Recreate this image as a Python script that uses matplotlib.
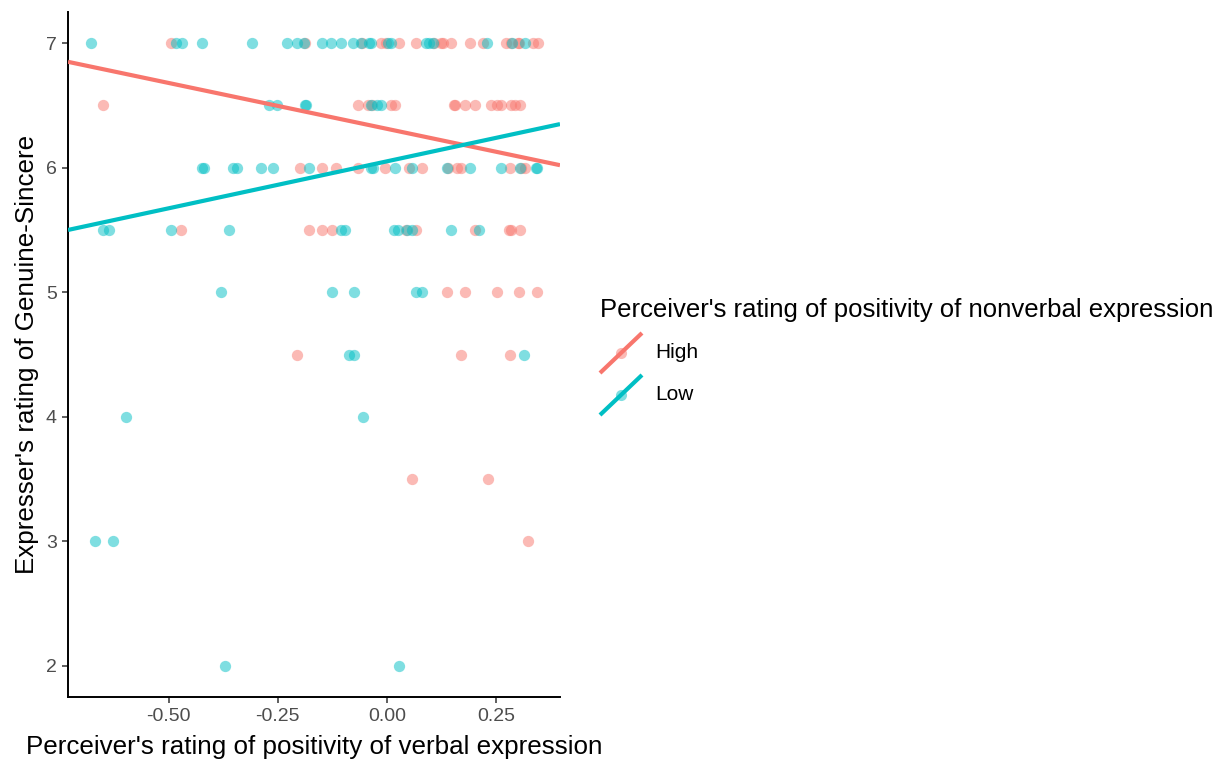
import numpy as np
import matplotlib
matplotlib.use("Agg")
import matplotlib.pyplot as plt
from matplotlib.lines import Line2D

plt.rcParams['font.family'] = ['Liberation Sans', 'DejaVu Sans']

# verbal positivity (x) and genuine-sincere rating (y), by nonverbal group
high_x = [-0.495, -0.187, -0.057, -0.014, -0.002, 0.027, 0.066, 0.107, 0.125, 0.128,
          0.148, 0.191, 0.221, 0.273, 0.285, 0.301, 0.303, 0.335, 0.346,
          -0.650, -0.066, -0.043, -0.034, 0.009, 0.018, 0.153, 0.157, 0.180, 0.201,
          0.239, 0.253, 0.262, 0.285, 0.294, 0.305,
          -0.198, -0.148, -0.116, -0.066, -0.005, 0.050, 0.080, 0.141, 0.162, 0.169,
          0.283, 0.307, 0.317,
          -0.472, -0.178, -0.148, -0.125, 0.044, 0.068, 0.201, 0.280, 0.285, 0.305,
          0.139, 0.180, 0.253, 0.303, 0.344,
          -0.207, 0.171, 0.283,
          0.057, 0.232,
          0.324]
high_y = [7.0] * 19 + [6.5] * 16 + [6.0] * 13 + [5.5] * 10 + [5.0] * 5 + [4.5] * 3 + [3.5] * 2 + [3.0]

low_x = [-0.679, -0.483, -0.469, -0.424, -0.310, -0.228, -0.207, -0.190, -0.148, -0.128,
         -0.105, -0.077, -0.060, -0.040, -0.036, 0.002, 0.009, 0.089, 0.096, 0.105,
         0.230, 0.287, 0.317,
         -0.271, -0.251, -0.187, -0.185, -0.036, -0.023, -0.014,
         -0.424, -0.420, -0.353, -0.344, -0.289, -0.260, -0.178, -0.036, -0.032, 0.018,
         0.057, 0.139, 0.191, 0.262, 0.305, 0.341, 0.344,
         -0.650, -0.638, -0.495, -0.362, -0.105, -0.096, 0.016, 0.025, 0.046, 0.057,
         0.148, 0.212,
         -0.381, -0.125, -0.075, 0.066, 0.080,
         -0.087, -0.075, 0.314,
         -0.597, -0.055,
         -0.668, -0.627,
         -0.371, 0.027]
low_y = ([7.0] * 23 + [6.5] * 7 + [6.0] * 17 + [5.5] * 12 + [5.0] * 5 + [4.5] * 3
         + [4.0] * 2 + [3.0] * 2 + [2.0] * 2)

# fitted lines, endpoints over the plotted range
fit_x = [-0.731, 0.397]
high_fit = [6.85, 6.02]
low_fit = [5.50, 6.35]

groups = ["High", "Low"]
colors = {"High": "#F8766D", "Low": "#00BFC4"}

fig = plt.figure(figsize=(12.25, 7.59), dpi=100)
ax = fig.add_axes([68 / 1225, 1 - 697 / 759, (560 - 68) / 1225, (697 - 12) / 759])

ax.scatter(high_x, high_y, s=66, color=colors["High"], alpha=0.5, linewidths=0, zorder=2)
ax.scatter(low_x, low_y, s=66, color=colors["Low"], alpha=0.5, linewidths=0, zorder=2)
ax.plot(fit_x, high_fit, color=colors["High"], lw=3, zorder=3, solid_capstyle='butt')
ax.plot(fit_x, low_fit, color=colors["Low"], lw=3, zorder=3, solid_capstyle='butt')

ax.set_xlim(-0.731, 0.397)
ax.set_ylim(1.75, 7.25)
ax.set_xticks([-0.50, -0.25, 0.00, 0.25])
ax.set_xticklabels(["-0.50", "-0.25", "0.00", "0.25"])
ax.set_yticks([2, 3, 4, 5, 6, 7])

for side in ["top", "right"]:
    ax.spines[side].set_visible(False)
for side in ["left", "bottom"]:
    ax.spines[side].set_linewidth(1.4)
    ax.spines[side].set_color("black")
ax.tick_params(axis="both", length=4, width=1.1, color="#333333",
               labelcolor="#4D4D4D", labelsize=14, pad=4)

ax.set_xlabel("Perceiver's rating of positivity of verbal expression", fontsize=18.7,
              color="black", labelpad=7)
ax.set_ylabel("Expresser's rating of Genuine-Sincere", fontsize=18.7,
              color="black", labelpad=5)

# legend drawn in figure pixel space
def fx(px):
    return px / 1225

def fy(py):
    return 1 - py / 759

fig.text(fx(600), fy(310), "Perceiver's rating of positivity of nonverbal expression",
         fontsize=18.5, va="center", ha="left")
for i, g in enumerate(groups):
    cy = 353 + 42 * i
    fig.add_artist(Line2D([fx(600), fx(642)], [fy(cy + 20), fy(cy - 20)],
                          color=colors[g], lw=3, solid_capstyle='butt'))
    fig.add_artist(Line2D([fx(621)], [fy(cy)], marker='o', markersize=8,
                          color=colors[g], alpha=0.5, markeredgewidth=0, linestyle='none'))
    fig.text(fx(655), fy(cy), g, fontsize=15, va="center", ha="left")

fig.savefig("out.png", dpi=100)
